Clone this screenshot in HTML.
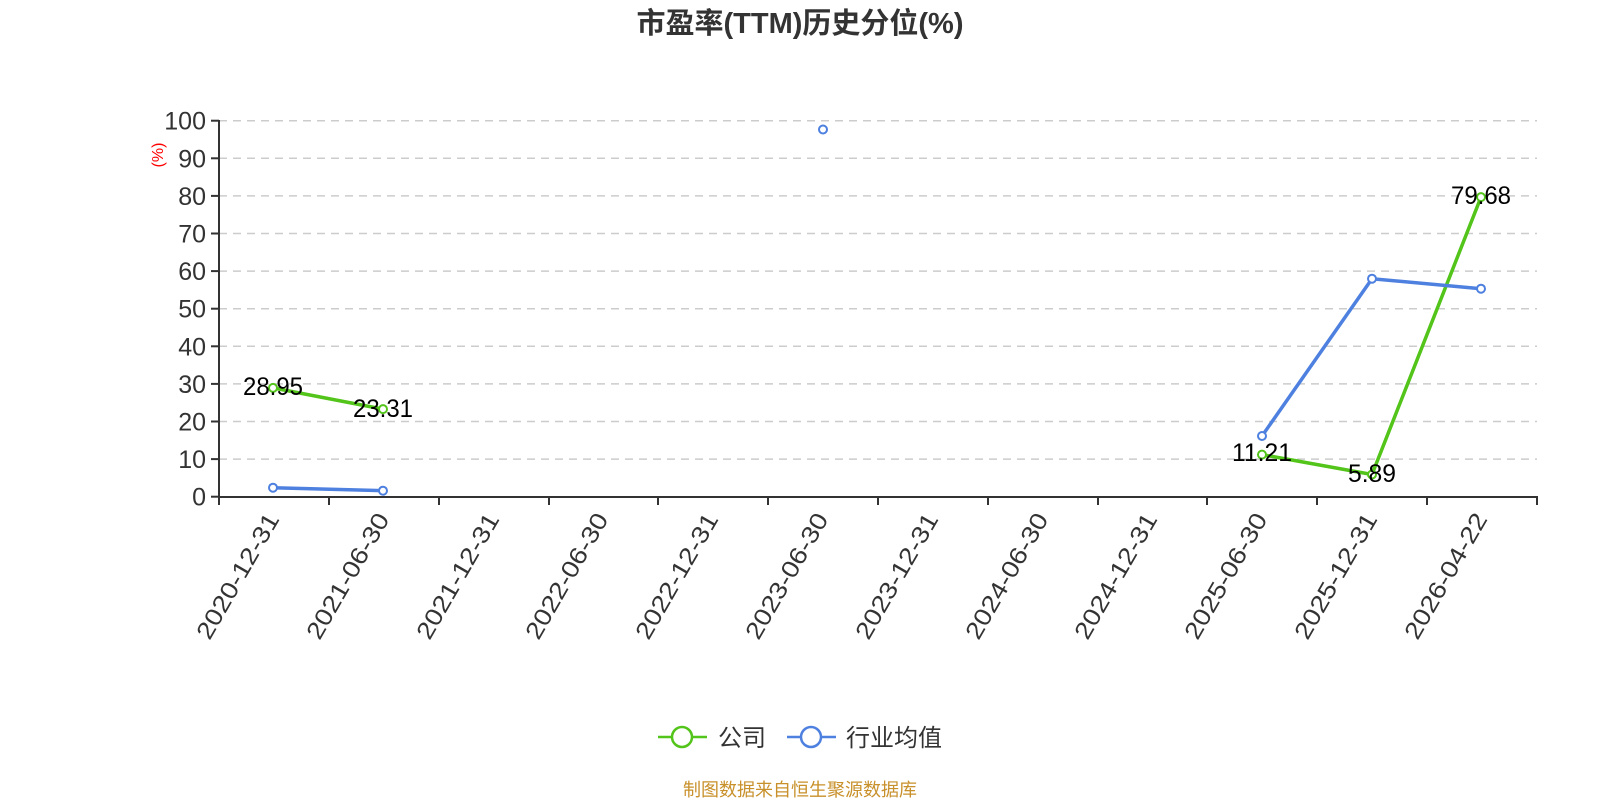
<!DOCTYPE html>
<html><head><meta charset="utf-8"><style>
html,body{margin:0;padding:0;background:#fff;}
svg{display:block;font-family:"Liberation Sans","Noto Sans CJK SC",sans-serif;}
</style></head><body>
<svg width="1600" height="800" viewBox="0 0 1600 800" xmlns="http://www.w3.org/2000/svg">
<text x="800" y="33" text-anchor="middle" font-size="29" font-weight="bold" fill="#333" font-family="Liberation Sans,Noto Sans CJK SC,sans-serif">市盈率(TTM)历史分位(%)</text>
<g stroke="#ccc" stroke-width="1.5" stroke-dasharray="8,6">
<line x1="219" x2="1537" y1="120.7" y2="120.7"/>
<line x1="219" x2="1537" y1="158.3" y2="158.3"/>
<line x1="219" x2="1537" y1="195.9" y2="195.9"/>
<line x1="219" x2="1537" y1="233.5" y2="233.5"/>
<line x1="219" x2="1537" y1="271.1" y2="271.1"/>
<line x1="219" x2="1537" y1="308.7" y2="308.7"/>
<line x1="219" x2="1537" y1="346.3" y2="346.3"/>
<line x1="219" x2="1537" y1="383.9" y2="383.9"/>
<line x1="219" x2="1537" y1="421.5" y2="421.5"/>
<line x1="219" x2="1537" y1="459.1" y2="459.1"/>
</g>
<g stroke="#333" stroke-width="2">
<line x1="219" y1="120" x2="219" y2="497"/>
<line x1="219" y1="497" x2="1538" y2="497"/>
<line x1="211" y1="120.7" x2="219" y2="120.7"/><line x1="211" y1="158.3" x2="219" y2="158.3"/><line x1="211" y1="195.9" x2="219" y2="195.9"/><line x1="211" y1="233.5" x2="219" y2="233.5"/><line x1="211" y1="271.1" x2="219" y2="271.1"/><line x1="211" y1="308.7" x2="219" y2="308.7"/><line x1="211" y1="346.3" x2="219" y2="346.3"/><line x1="211" y1="383.9" x2="219" y2="383.9"/><line x1="211" y1="421.5" x2="219" y2="421.5"/><line x1="211" y1="459.1" x2="219" y2="459.1"/><line x1="211" y1="496.7" x2="219" y2="496.7"/>
<line x1="219" y1="497" x2="219" y2="505"/><line x1="329" y1="497" x2="329" y2="505"/><line x1="439" y1="497" x2="439" y2="505"/><line x1="549" y1="497" x2="549" y2="505"/><line x1="658" y1="497" x2="658" y2="505"/><line x1="768" y1="497" x2="768" y2="505"/><line x1="878" y1="497" x2="878" y2="505"/><line x1="988" y1="497" x2="988" y2="505"/><line x1="1098" y1="497" x2="1098" y2="505"/><line x1="1207" y1="497" x2="1207" y2="505"/><line x1="1317" y1="497" x2="1317" y2="505"/><line x1="1427" y1="497" x2="1427" y2="505"/><line x1="1537" y1="497" x2="1537" y2="505"/>
</g>
<g font-size="25" fill="#333" text-anchor="end">
<text x="206" y="129.7">100</text><text x="206" y="167.3">90</text><text x="206" y="204.9">80</text><text x="206" y="242.5">70</text><text x="206" y="280.1">60</text><text x="206" y="317.7">50</text><text x="206" y="355.3">40</text><text x="206" y="392.9">30</text><text x="206" y="430.5">20</text><text x="206" y="468.1">10</text><text x="206" y="505.7">0</text>
</g>
<text transform="translate(163,155) rotate(-90)" text-anchor="middle" font-size="16" fill="#f00">(%)</text>
<g font-size="24" fill="#333" text-anchor="end">
<text transform="translate(280,519) rotate(-60)" textLength="141" lengthAdjust="spacingAndGlyphs">2020-12-31</text>
<text transform="translate(390,519) rotate(-60)" textLength="141" lengthAdjust="spacingAndGlyphs">2021-06-30</text>
<text transform="translate(500,519) rotate(-60)" textLength="141" lengthAdjust="spacingAndGlyphs">2021-12-31</text>
<text transform="translate(609,519) rotate(-60)" textLength="141" lengthAdjust="spacingAndGlyphs">2022-06-30</text>
<text transform="translate(719,519) rotate(-60)" textLength="141" lengthAdjust="spacingAndGlyphs">2022-12-31</text>
<text transform="translate(829,519) rotate(-60)" textLength="141" lengthAdjust="spacingAndGlyphs">2023-06-30</text>
<text transform="translate(939,519) rotate(-60)" textLength="141" lengthAdjust="spacingAndGlyphs">2023-12-31</text>
<text transform="translate(1049,519) rotate(-60)" textLength="141" lengthAdjust="spacingAndGlyphs">2024-06-30</text>
<text transform="translate(1158,519) rotate(-60)" textLength="141" lengthAdjust="spacingAndGlyphs">2024-12-31</text>
<text transform="translate(1268,519) rotate(-60)" textLength="141" lengthAdjust="spacingAndGlyphs">2025-06-30</text>
<text transform="translate(1378,519) rotate(-60)" textLength="141" lengthAdjust="spacingAndGlyphs">2025-12-31</text>
<text transform="translate(1488,519) rotate(-60)" textLength="141" lengthAdjust="spacingAndGlyphs">2026-04-22</text>
</g>
<g fill="none" stroke-width="3.5" stroke-linejoin="round">
<polyline stroke="#52c41a" points="273,387.9 383,409.1"/>
<polyline stroke="#52c41a" points="1262,454.6 1372,474.5 1481,197.1"/>
<polyline stroke="#4e80e0" points="273,487.7 383,490.7"/>
<polyline stroke="#4e80e0" points="1262,436 1372,278.7 1481,288.7"/>
</g>
<g fill="#fff" stroke-width="2">
<circle cx="273" cy="387.9" r="4" stroke="#52c41a"/><circle cx="383" cy="409.1" r="4" stroke="#52c41a"/>
<circle cx="1262" cy="454.6" r="4" stroke="#52c41a"/><circle cx="1372" cy="474.5" r="4" stroke="#52c41a"/><circle cx="1481" cy="197.1" r="4" stroke="#52c41a"/>
<circle cx="273" cy="487.7" r="4" stroke="#4e80e0"/><circle cx="383" cy="490.7" r="4" stroke="#4e80e0"/>
<circle cx="823" cy="129.5" r="4" stroke="#4e80e0"/>
<circle cx="1262" cy="436" r="4" stroke="#4e80e0"/><circle cx="1372" cy="278.7" r="4" stroke="#4e80e0"/><circle cx="1481" cy="288.7" r="4" stroke="#4e80e0"/>
</g>
<g font-size="25" fill="#000" text-anchor="middle">
<text x="273" y="395" textLength="60" lengthAdjust="spacingAndGlyphs">28.95</text>
<text x="383" y="417" textLength="60" lengthAdjust="spacingAndGlyphs">23.31</text>
<text x="1262" y="461" textLength="60" lengthAdjust="spacingAndGlyphs">11.21</text>
<text x="1372" y="482" textLength="48" lengthAdjust="spacingAndGlyphs">5.89</text>
<text x="1481" y="204" textLength="60" lengthAdjust="spacingAndGlyphs">79.68</text>
</g>
<line x1="658" y1="737" x2="707" y2="737" stroke="#52c41a" stroke-width="2.5"/>
<circle cx="682" cy="737" r="10" fill="#fff" stroke="#52c41a" stroke-width="2.5"/>
<text x="718" y="746" font-size="24" fill="#333" font-family="Noto Sans CJK SC,sans-serif">公司</text>
<line x1="787" y1="737" x2="836" y2="737" stroke="#4e80e0" stroke-width="2.5"/>
<circle cx="811" cy="737" r="10" fill="#fff" stroke="#4e80e0" stroke-width="2.5"/>
<text x="846" y="746" font-size="24" fill="#333" font-family="Noto Sans CJK SC,sans-serif">行业均值</text>
<text x="800" y="796" text-anchor="middle" font-size="18" fill="#c8902a" font-family="Noto Sans CJK SC,sans-serif">制图数据来自恒生聚源数据库</text>
</svg>
</body></html>
